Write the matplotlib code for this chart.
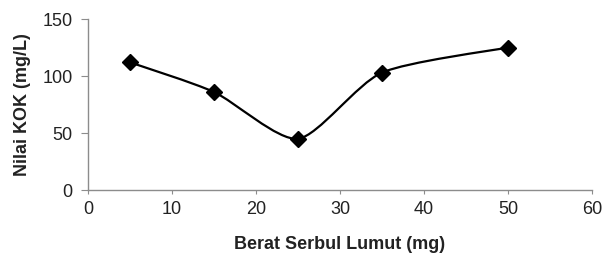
import numpy as np
import matplotlib.pyplot as plt
from matplotlib.path import Path
from matplotlib.patches import PathPatch

berat = [5, 15, 25, 35, 50]
kok = [112, 86, 45, 103, 125]

plt.rcParams['font.family'] = ['Liberation Sans', 'DejaVu Sans']


def smooth_path(x, y, t=0.12):
    # Catmull-Rom style bezier through the points, like Excel's smoothed line
    x = np.asarray(x, float)
    y = np.asarray(y, float)
    verts = [(x[0], y[0])]
    codes = [Path.MOVETO]
    n = len(x)
    for i in range(n - 1):
        x0, y0 = (x[i - 1], y[i - 1]) if i > 0 else (x[i], y[i])
        x3, y3 = (x[i + 2], y[i + 2]) if i + 2 < n else (x[i + 1], y[i + 1])
        c1 = (x[i] + (x[i + 1] - x0) * t, y[i] + (y[i + 1] - y0) * t)
        c2 = (x[i + 1] - (x3 - x[i]) * t, y[i + 1] - (y3 - y[i]) * t)
        verts += [c1, c2, (x[i + 1], y[i + 1])]
        codes += [Path.CURVE4] * 3
    return Path(verts, codes)


fig = plt.figure(figsize=(6.08, 2.64), dpi=100)
ax = fig.add_axes([0.1447, 0.28, 0.829, 0.648])

ax.add_patch(PathPatch(smooth_path(berat, kok), facecolor='none',
                       edgecolor='black', linewidth=1.6))
ax.plot(berat, kok, linestyle='none', marker='D', markersize=8,
        color='black')

ax.set_xlim(0, 60)
ax.set_ylim(0, 150)
ax.set_xticks(range(0, 61, 10))
ax.set_yticks(range(0, 151, 50))

for spine in ['top', 'right']:
    ax.spines[spine].set_visible(False)
for spine in ['left', 'bottom']:
    ax.spines[spine].set_color('#8c8c8c')
    ax.spines[spine].set_linewidth(1.0)

ax.tick_params(axis='y', length=5, color='#8c8c8c', labelsize=13,
               pad=6, labelcolor='#222222')
ax.tick_params(axis='x', length=3, color='#8c8c8c', labelsize=13,
               pad=5, labelcolor='#222222')

ax.set_xlabel('Berat Serbul Lumut (mg)', fontsize=13, fontweight='bold',
              labelpad=13, color='#222222')
ax.set_ylabel('Nilai KOK (mg/L)', fontsize=13, fontweight='bold',
              labelpad=8, color='#222222')

plt.savefig('out.png', dpi=100)
